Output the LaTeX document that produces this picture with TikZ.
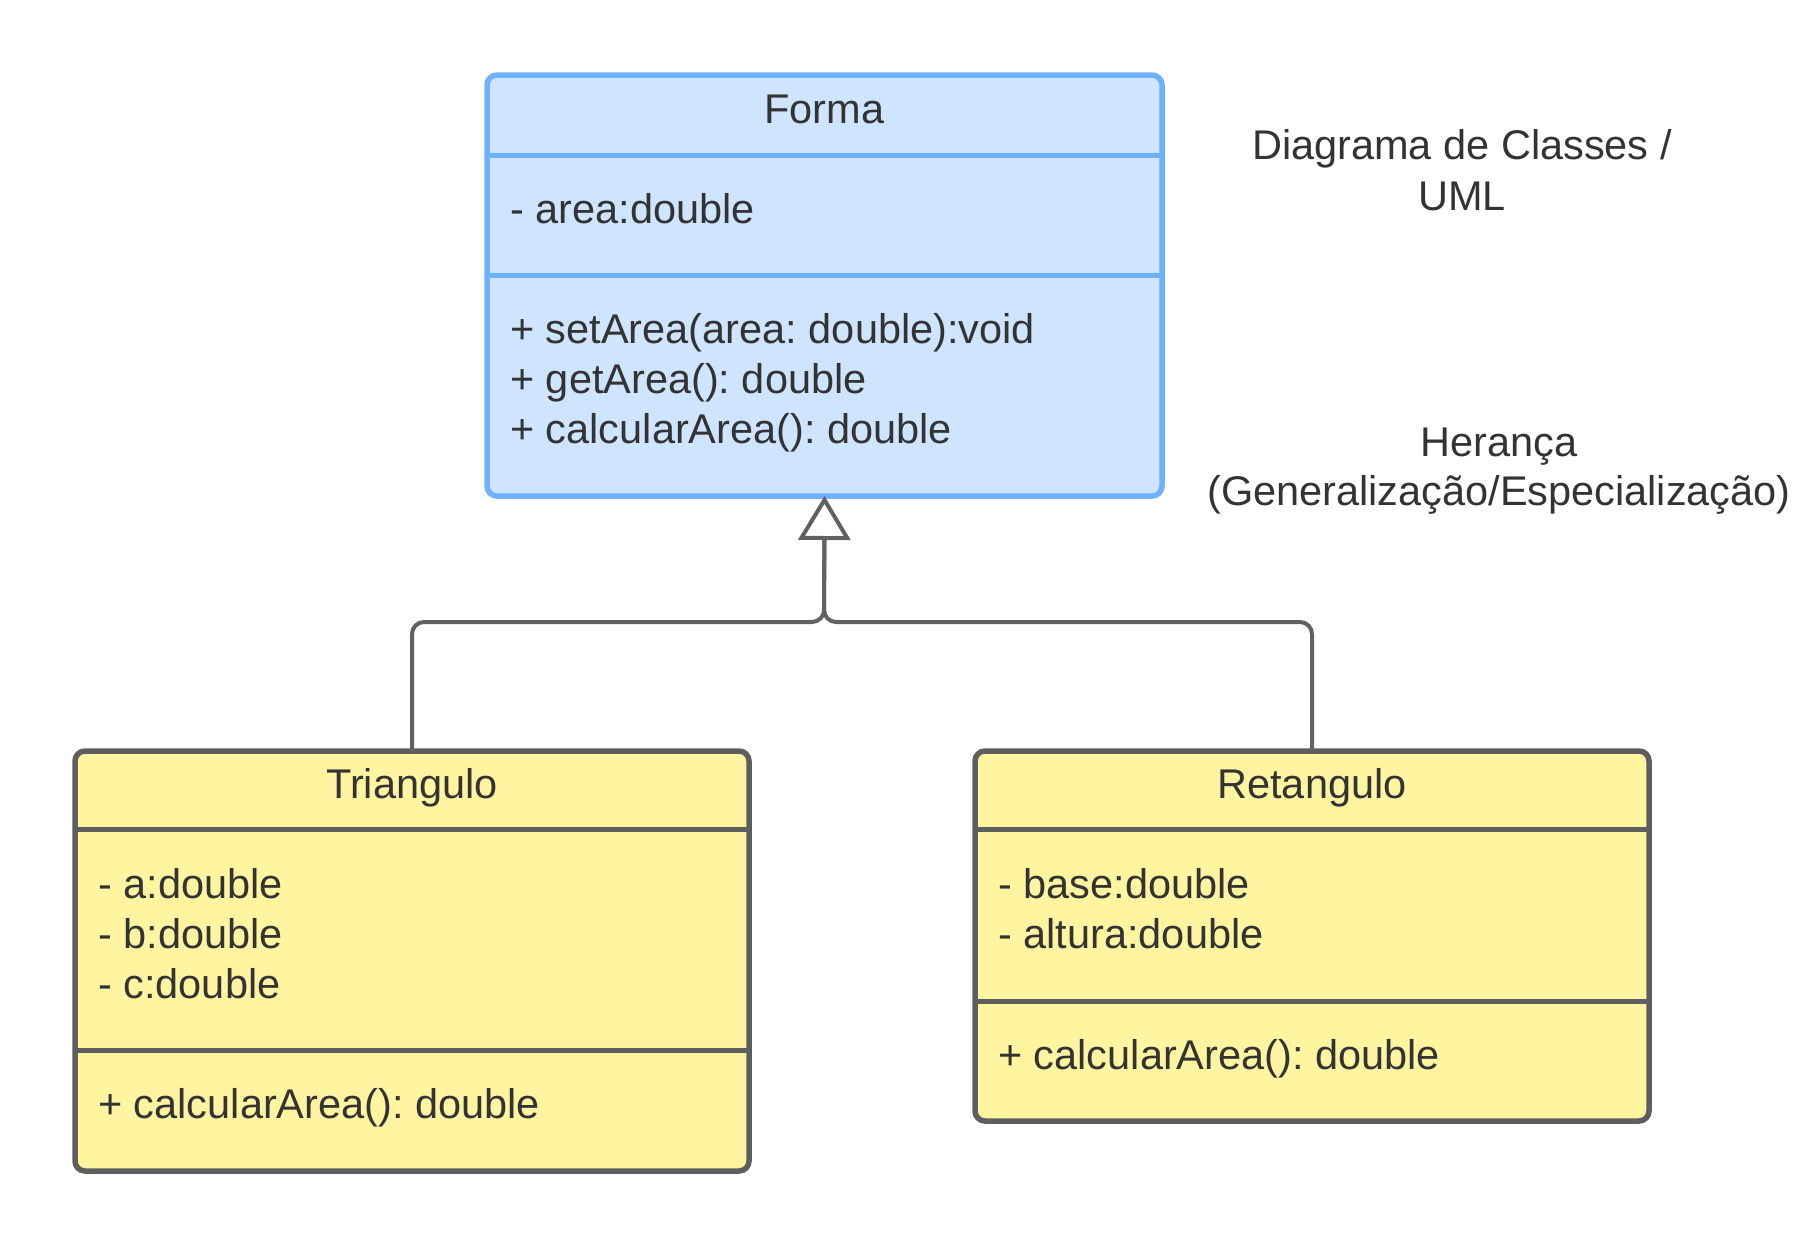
\documentclass[tikz,border=0pt]{standalone}
\usepackage{fontspec}
\setmainfont{Liberation Sans}
\usetikzlibrary{arrows.meta}
\definecolor{formafill}{HTML}{CFE4FF}
\definecolor{formaline}{HTML}{6DB1FF}
\definecolor{classfill}{HTML}{FFF5A1}
\definecolor{classline}{HTML}{5E5E5E}
\definecolor{linkline}{HTML}{616161}
\definecolor{txt}{HTML}{333333}
\frenchspacing

\begin{document}
\begin{tikzpicture}[x=1pt, y=-1pt,
    every node/.style={text=txt, font=\fontsize{41.5}{50}\selectfont, inner sep=0pt},
    classbox/.style n args={2}{rectangle, rounded corners=10pt, line width=5.5pt, outer sep=0pt,
                               minimum width=#1, minimum height=#2},
    member/.style={anchor=base west},
    title/.style={anchor=base},
    link/.style={draw=linkline, line width=4pt, rounded corners=12pt}]
    \useasboundingbox (0,0) rectangle (1800,1245);

    % classes
    \node [classbox={675pt}{421pt}, fill=formafill, draw=formaline] (forma) at (824.5,285.5) {};
    \node [classbox={674pt}{420pt}, fill=classfill, draw=classline] (tri)   at (412,961)     {};
    \node [classbox={674pt}{370pt}, fill=classfill, draw=classline] (ret)   at (1312,936)    {};

    % compartments
    \draw [formaline, line width=5pt] ([yshift=-80pt]forma.north west) -- ([yshift=-80pt]forma.north east);
    \draw [formaline, line width=5pt] ([yshift=-200pt]forma.north west) -- ([yshift=-200pt]forma.north east);
    \draw [classline, line width=5pt] ([yshift=-78pt]tri.north west) -- ([yshift=-78pt]tri.north east);
    \draw [classline, line width=5pt] ([yshift=-299pt]tri.north west) -- ([yshift=-299pt]tri.north east);
    \draw [classline, line width=5pt] ([yshift=-78pt]ret.north west) -- ([yshift=-78pt]ret.north east);
    \draw [classline, line width=5pt] ([yshift=-250pt]ret.north west) -- ([yshift=-250pt]ret.north east);

    % texts of Forma
    \node [title]  (fname) at (824.5,123) {Forma};
    \node [member] (fattr) at (510,223)   {- area:double};
    \foreach \txt [count=\i] in {{+ setArea(area: double):void}, {+ getArea(): double}, {+ calcularArea(): double}}
        \node [member] (fm\i) at (510,293+50.3*\i) {\txt};

    % texts of Triangulo
    \node [title] (tname) at (412,798) {Triangulo};
    \foreach \txt [count=\i] in {{- a:double}, {- b:double}, {- c:double}}
        \node [member] (ta\i) at (98,848+50*\i) {\txt};
    \node [member] (tm1) at (98,1118) {+ calcularArea(): double};

    % texts of Retangulo
    \node [title] (rname) at (1312,798) {Retangulo};
    \foreach \txt [count=\i] in {{- base:double}, {- altura:double}}
        \node [member] (ra\i) at (998,848+50*\i) {\txt};
    \node [member] (rm1) at (998,1069) {+ calcularArea(): double};

    % notes
    \node [title] (note1) at (1462,159) {Diagrama de Classes /};
    \node [title] (note2) at (1462,210) {UML};
    \node [title] (note3) at (1499,456) {Herança};
    \node [title] (note4) at (1499,505) {(Generalização/Especialização)};

    % inheritance
    \coordinate (join) at (824,622);
    \draw [link, -{Triangle[open, width=52pt, length=44pt]}] (tri.north) |- (join) -- (forma.south);
    \draw [link] (ret.north) |- (join) -- ([yshift=-40pt]forma.south);
\end{tikzpicture}
\end{document}
